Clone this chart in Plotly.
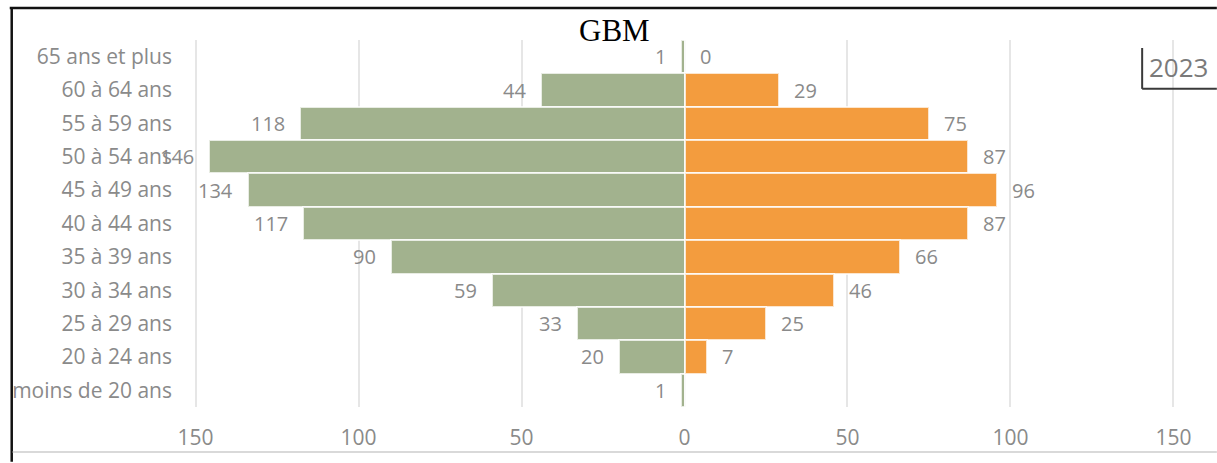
import plotly.graph_objects as go

# ---- data ----
categories = ["65 ans et plus", "60 à 64 ans", "55 à 59 ans", "50 à 54 ans",
              "45 à 49 ans", "40 à 44 ans", "35 à 39 ans", "30 à 34 ans",
              "25 à 29 ans", "20 à 24 ans", "moins de 20 ans"]
left_values = [1, 44, 118, 146, 134, 117, 90, 59, 33, 20, 1]      # green side
right_values = [0, 29, 75, 87, 96, 87, 66, 46, 25, 7, None]      # orange side
tick_values = [-150, -100, -50, 0, 50, 100, 150]
tick_labels = ["150", "100", "50", "0", "50", "100", "150"]
title_text = "GBM"
legend_text = "2023"

# ---- style ----
GREEN = "#a2b28e"
ORANGE = "#f39c3e"
TEXT = "#8a8a8a"
FONT = "Open Sans"
W, H = 1217, 463
XR = 152
ML, MR, MT, MB = 185, 37, 40, 55
PW = W - ML - MR
PH = H - MT - MB


def px_x(px):
    return (px - ML) / PW


def px_y(py):
    return (H - MB - py) / PH


fig = go.Figure()
fig.add_trace(go.Bar(
    y=categories, x=[-v for v in left_values], orientation="h",
    marker=dict(color=GREEN, line=dict(color="rgba(255,255,255,0.75)", width=2)),
    hoverinfo="skip", showlegend=False))
fig.add_trace(go.Bar(
    y=categories, x=[v if v is not None else 0 for v in right_values], orientation="h",
    marker=dict(color=ORANGE, line=dict(color="rgba(255,255,255,0.75)", width=2)),
    hoverinfo="skip", showlegend=False))

annotations = []
for c, v in zip(categories, left_values):
    annotations.append(dict(x=-v, y=c, xref="x", yref="y", text=str(v),
                            showarrow=False, xanchor="right", xshift=-13,
                            font=dict(family=FONT, size=20, color=TEXT)))
for c, v in zip(categories, right_values):
    if v is None:
        continue
    annotations.append(dict(x=v, y=c, xref="x", yref="y", text=str(v),
                            showarrow=False, xanchor="left", xshift=13,
                            font=dict(family=FONT, size=20, color=TEXT)))
annotations.append(dict(x=px_x(612), y=px_y(30), xref="paper", yref="paper",
                        text=title_text, showarrow=False, xanchor="center", yanchor="middle",
                        font=dict(family="Liberation Serif", size=31, color="#000000")))
annotations.append(dict(x=px_x(1147), y=px_y(67), xref="paper", yref="paper",
                        text=legend_text, showarrow=False, xanchor="left", yanchor="middle",
                        font=dict(family=FONT, size=26, color="#7a7a7a")))

shapes = [
    # outer frame (top and left)
    dict(type="line", xref="paper", yref="paper", x0=px_x(5), x1=px_x(1217),
         y0=px_y(8), y1=px_y(8), line=dict(color="#111111", width=2.5)),
    dict(type="line", xref="paper", yref="paper", x0=px_x(7), x1=px_x(7),
         y0=px_y(8), y1=px_y(463), line=dict(color="#111111", width=2.5)),
    # bottom light line
    dict(type="line", xref="paper", yref="paper", x0=px_x(8), x1=px_x(1217),
         y0=px_y(453), y1=px_y(453), line=dict(color="#d9d9d9", width=2)),
    # legend box corner
    dict(type="line", xref="paper", yref="paper", x0=px_x(1142), x1=px_x(1142),
         y0=px_y(48), y1=px_y(89), line=dict(color="#3a3a3a", width=2)),
    dict(type="line", xref="paper", yref="paper", x0=px_x(1142), x1=px_x(1217),
         y0=px_y(89), y1=px_y(89), line=dict(color="#3a3a3a", width=2)),
]

fig.update_layout(
    width=W, height=H,
    margin=dict(l=ML, r=MR, t=MT, b=MB, pad=0),
    paper_bgcolor="white", plot_bgcolor="white",
    barmode="overlay", bargap=0,
    annotations=annotations, shapes=shapes,
    xaxis=dict(range=[-XR, XR], tickvals=tick_values, ticktext=tick_labels,
               showgrid=True, gridcolor="#e6e6e6", gridwidth=1.5,
               zeroline=True, zerolinecolor="#a6a6a6", zerolinewidth=2,
               showline=False, ticks="", ticklabelstandoff=16,
               tickfont=dict(family=FONT, size=21, color=TEXT), fixedrange=True),
    yaxis=dict(categoryorder="array", categoryarray=categories,
               range=[10.5, -0.5], showgrid=False, zeroline=False, showline=False,
               ticks="", ticklabelstandoff=16,
               tickfont=dict(family=FONT, size=21, color=TEXT), fixedrange=True),
)

fig.write_html("out.html", config={"displayModeBar": False},
               post_script="document.body.style.margin='0';document.body.style.overflow='hidden';")
